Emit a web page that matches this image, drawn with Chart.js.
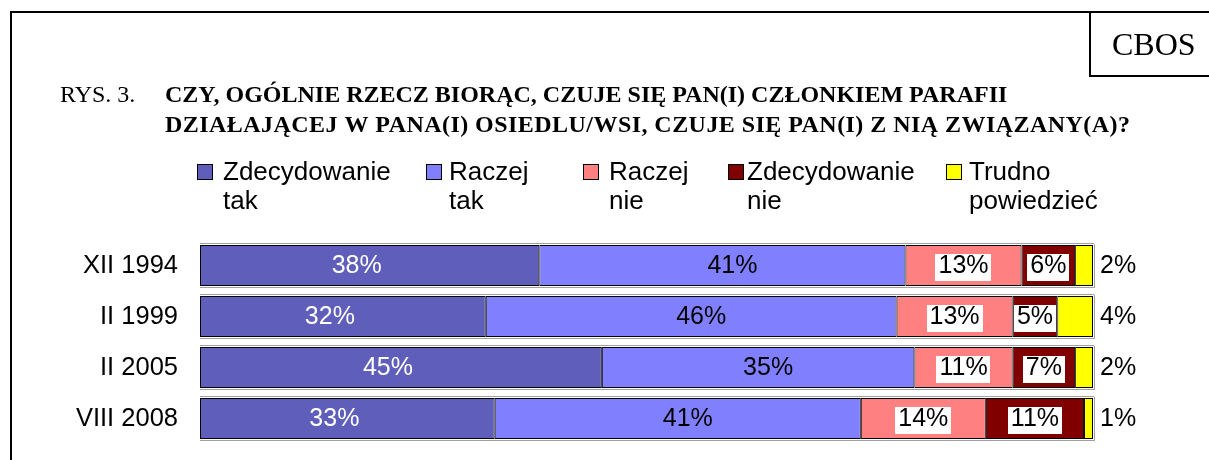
<!DOCTYPE html>
<html>
<head>
<meta charset="utf-8">
<script src="https://cdn.jsdelivr.net/npm/chart.js@4.4.1/dist/chart.umd.min.js"></script>
<style>
html,body{margin:0;padding:0;background:#fff;}
#wrap{position:relative;width:1209px;height:460px;}
</style>
</head>
<body>
<div id="wrap"><canvas id="c" width="1209" height="460"></canvas></div>
<script>
const categories = ["XII 1994", "II 1999", "II 2005", "VIII 2008"];
const seriesNames = [["Zdecydowanie", "tak"], ["Raczej", "tak"], ["Raczej", "nie"], ["Zdecydowanie", "nie"], ["Trudno", "powiedzieć"]];
const zdecydowanieTak = [38, 32, 45, 33];
const raczejTak = [41, 46, 35, 41];
const raczejNie = [13, 13, 11, 14];
const zdecydowanieNie = [6, 5, 7, 11];
const trudnoPowiedziec = [2, 4, 2, 1];
const titleLabel = "RYS. 3.";
const titleLines = ["CZY, OGÓLNIE RZECZ BIORĄC, CZUJE SIĘ PAN(I) CZŁONKIEM PARAFII",
                    "DZIAŁAJĄCEJ W PANA(I) OSIEDLU/WSI, CZUJE SIĘ PAN(I) Z NIĄ ZWIĄZANY(A)?"];
const sourceLabel = "CBOS";

const colors = ["#5F5FBB", "#8080FF", "#FF8080", "#800000", "#FFFF00"];
const allSeries = [zdecydowanieTak, raczejTak, raczejNie, zdecydowanieNie, trudnoPowiedziec];

const labelStyle = [
  {color: "#fff", box: false, pos: "center", dx: -13},
  {color: "#000", box: false, pos: "center", dx: 10},
  {color: "#000", box: true, pos: "center", dx: 0},
  {color: "#000", box: true, pos: "center", dx: 0},
  {color: "#000", box: false, pos: "outside", dx: 0}
];
const legendPos = [{sq: 197, tx: 223}, {sq: 426, tx: 449}, {sq: 583, tx: 609}, {sq: 728, tx: 747}, {sq: 946, tx: 969}];

const SANS = '"Liberation Sans", Arial, sans-serif';
const SERIF = '"Liberation Serif", "Times New Roman", serif';

const decor = {
  id: 'decor',
  beforeDraw(chart) {
    const ctx = chart.ctx;
    ctx.save();
    ctx.fillStyle = '#fff';
    ctx.fillRect(0, 0, chart.width, chart.height);
    ctx.strokeStyle = '#000';
    ctx.lineWidth = 2;
    ctx.beginPath();
    ctx.moveTo(11, 460); ctx.lineTo(11, 12); ctx.lineTo(1209, 12);
    ctx.stroke();
    ctx.beginPath();
    ctx.moveTo(1090, 12); ctx.lineTo(1090, 76); ctx.lineTo(1209, 76);
    ctx.stroke();
    ctx.fillStyle = '#000';
    ctx.textBaseline = 'alphabetic';
    ctx.textAlign = 'left';
    ctx.font = '32px ' + SERIF;
    ctx.fillText(sourceLabel, 1112, 55);
    ctx.font = '24px ' + SERIF;
    ctx.fillText(titleLabel, 60, 102);
    ctx.font = 'bold 24px ' + SERIF;
    ctx.fillText(titleLines[0], 165, 102);
    if ('letterSpacing' in ctx) ctx.letterSpacing = '0.45px';
    ctx.fillText(titleLines[1], 165, 132);
    if ('letterSpacing' in ctx) ctx.letterSpacing = '0px';
    chart.data.datasets.forEach((ds, i) => {
      const p = legendPos[i];
      ctx.fillStyle = ds.backgroundColor;
      ctx.fillRect(p.sq, 164, 16, 16);
      ctx.lineWidth = 1;
      ctx.strokeStyle = '#000';
      ctx.strokeRect(p.sq + 0.5, 164.5, 15, 15);
      ctx.fillStyle = '#000';
      ctx.font = '26px ' + SANS;
      ctx.fillText(seriesNames[i][0], p.tx, 180);
      ctx.fillText(seriesNames[i][1], p.tx, 209);
    });
    ctx.restore();
  },
  afterDatasetsDraw(chart) {
    const ctx = chart.ctx;
    ctx.save();
    const first = chart.getDatasetMeta(0).data;
    const last = chart.getDatasetMeta(chart.data.datasets.length - 1).data;
    ctx.strokeStyle = '#a0a0a0';
    ctx.lineWidth = 1;
    first.forEach((bar, j) => {
      const l = bar.base, r = last[j].x, h = bar.height;
      const top = Math.round(bar.y - h / 2), bot = Math.round(bar.y + h / 2);
      ctx.beginPath();
      ctx.moveTo(Math.round(l), top - 1.5); ctx.lineTo(Math.round(r) + 1, top - 1.5);
      ctx.moveTo(Math.round(l), bot + 1.5); ctx.lineTo(Math.round(r) + 1, bot + 1.5);
      ctx.moveTo(Math.round(r) + 1.5, top - 1); ctx.lineTo(Math.round(r) + 1.5, bot + 2);
      ctx.stroke();
    });
    ctx.font = '25px ' + SANS;
    ctx.textBaseline = 'middle';
    ctx.textAlign = 'center';
    chart.data.datasets.forEach((ds, i) => {
      const meta = chart.getDatasetMeta(i);
      const st = labelStyle[i];
      meta.data.forEach((bar, j) => {
        const txt = ds.data[j] + '%';
        const w = ctx.measureText(txt).width;
        let x;
        if (st.pos === 'outside') {
          x = bar.x + 7 + w / 2;
        } else {
          x = (bar.x + bar.base) / 2 + st.dx;
        }
        const y = bar.y + 1;
        if (st.box) {
          ctx.fillStyle = '#fff';
          ctx.fillRect(Math.round(x - w / 2 - 3), Math.round(y - 13), Math.round(w + 6), 27);
        }
        ctx.fillStyle = st.color;
        ctx.fillText(txt, x, y);
      });
    });
    ctx.restore();
  }
};

new Chart(document.getElementById('c'), {
  type: 'bar',
  data: {
    labels: categories,
    datasets: allSeries.map((d, i) => ({
      label: seriesNames[i].join(' '),
      data: d,
      backgroundColor: colors[i],
      borderColor: '#000',
      borderWidth: 1,
      borderSkipped: false,
      categoryPercentage: 1,
      barPercentage: 41 / 51
    }))
  },
  options: {
    indexAxis: 'y',
    responsive: false,
    animation: false,
    events: [],
    layout: {padding: {top: 240, bottom: 16, right: 116, left: 0}},
    plugins: {legend: {display: false}, title: {display: false}, tooltip: {enabled: false}},
    scales: {
      x: {
        stacked: true, min: 0, max: 100, display: false,
        ticks: {display: false}, grid: {display: false, drawTicks: false}, border: {display: false},
        afterFit(scale) { scale.height = 0; scale.paddingLeft = 0; scale.paddingRight = 0; }
      },
      y: {
        stacked: true,
        grid: {display: false, drawTicks: false},
        border: {display: false},
        ticks: {color: '#000', font: {family: SANS, size: 25.5}, padding: 22},
        afterFit(scale) { scale.width = 200; scale.paddingTop = 0; scale.paddingBottom = 0; }
      }
    }
  },
  plugins: [decor]
});
</script>
</body>
</html>
